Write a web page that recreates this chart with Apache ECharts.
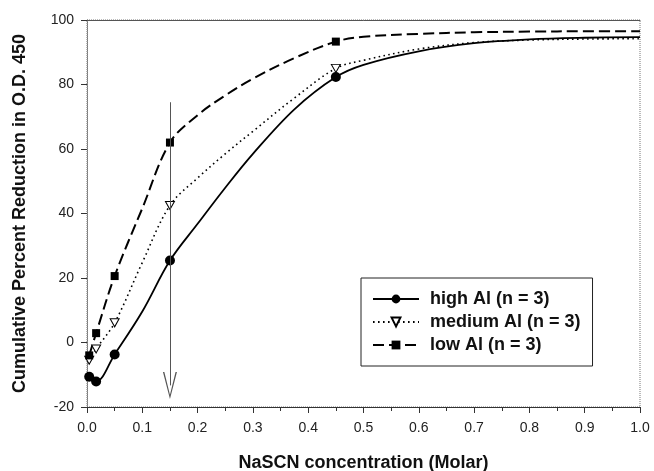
<!DOCTYPE html>
<html lang="en" style="height: 100%">
<head>
  <meta charset="utf-8">
  <script type="text/javascript" src="https://cdn.jsdelivr.net/npm/echarts@6/dist/echarts.min.js"></script>
</head>
<body style="height: 100%; margin: 0">
  <div id="main" style="height: 471px; width: 654px"></div>

  <script type="text/javascript">
    // measured points (molar NaSCN) and cumulative % reduction
    var conc = [0.004, 0.0165, 0.05, 0.15, 0.45];
    var highAl = [-10.6, -12.1, -3.7, 25.4, 82.3];
    var mediumAl = [-5.5, -2, 6.1, 42.5, 85.0];
    var lowAl = [-4, 2.9, 20.6, 62.0, 93.3];

    var curveConc = [0.1, 0.2, 0.25, 0.3, 0.375, 0.5, 0.6, 0.7, 0.8, 0.9, 1.0];
    var highCurve = [9.6, 36.8, 48.0, 58.5, 72.3, 86.1, 90.3, 92.8, 94.0, 94.5, 94.7];
    var mediumCurve = [24.8, 51.0, 58.5, 65.5, 75.8, 87.5, 91.0, 93.0, 93.8, 94.1, 94.2];
    var lowCurve = [41.6, 70.5, 76.6, 81.8, 88.2, 94.8, 95.7, 96.2, 96.4, 96.5, 96.5];

    var names = ['high Al (n = 3)', 'medium Al (n = 3)', 'low Al (n = 3)'];

    // arrow marking 0.15 M
    var arrowX = 0.15;
    var arrowFrom = 74.5;
    var arrowTo = -13.3;

    var font = 'Liberation Sans, Arial, Helvetica, sans-serif';

    function pts(xs, ys, cxs, cys) {
      var out = [];
      for (var i = 0; i < xs.length; i++) out.push({value: [xs[i], ys[i]]});
      for (var j = 0; j < cxs.length; j++) {
        out.push({value: [cxs[j], cys[j]], symbol: 'none'});
      }
      out.sort(function (a, b) { return a.value[0] - b.value[0]; });
      return out;
    }

    var chart = echarts.init(document.getElementById('main'));

    var option = {
      animation: false,
      backgroundColor: '#fff',
      textStyle: {fontFamily: font},
      grid: {
        left: 87, right: 14, top: 20, bottom: 64,
        outerBoundsMode: 'none',
        containLabel: false,
        show: true, borderColor: '#777', borderWidth: 1,
        borderType: [1, 1]
      },
      legend: {
        data: names,
        orient: 'vertical',
        left: 361, top: 278,
        padding: [12, 12, 12, 11],
        itemWidth: 46, itemHeight: 11, itemGap: 5,
        borderColor: '#222', borderWidth: 1,
        backgroundColor: '#fff',
        textStyle: {fontFamily: font, fontSize: 18, fontWeight: 'bold', color: '#111', padding: [0, 0, 0, 6]}
      },
      xAxis: [{
        type: 'value',
        min: 0, max: 1, interval: 0.1,
        name: 'NaSCN concentration (Molar)',
        nameLocation: 'middle', nameGap: 47,
        nameTextStyle: {fontFamily: font, fontSize: 18, fontWeight: 'bold', color: '#111'},
        axisLine: {onZero: false, lineStyle: {color: '#333', width: 1}},
        axisTick: {inside: false, length: 6, lineStyle: {color: '#333'}},
        minorTick: {show: true, splitNumber: 2, length: 4, lineStyle: {color: '#333'}},
        splitLine: {show: false},
        minorSplitLine: {show: false},
        axisLabel: {
          fontFamily: font, fontSize: 14, color: '#222', margin: 14,
          formatter: function (v) { return v.toFixed(1); }
        }
      }, {
        type: 'value', position: 'top',
        min: 0, max: 1,
        axisLine: {show: true, onZero: false, lineStyle: {color: '#555', width: 1}},
        axisTick: {show: false}, minorTick: {show: false},
        axisLabel: {show: false}, splitLine: {show: false}
      }],
      yAxis: {
        type: 'value',
        min: -20, max: 100, interval: 20,
        name: 'Cumulative Percent Reduction in O.D. 450',
        nameLocation: 'middle', nameGap: 58,
        nameTextStyle: {fontFamily: font, fontSize: 18, fontWeight: 'bold', color: '#111'},
        axisLine: {show: true, onZero: false, lineStyle: {color: '#777', width: 1, type: [1, 1]}},
        axisTick: {show: true, length: 6, lineStyle: {color: '#333'}},
        splitLine: {show: false},
        axisLabel: {fontFamily: font, fontSize: 14, color: '#222', margin: 13}
      },
      series: [{
        name: names[0],
        type: 'line',
        smooth: 0.35,
        data: pts(conc, highAl, curveConc, highCurve),
        symbol: 'circle', symbolSize: 10,
        itemStyle: {color: '#000'},
        lineStyle: {color: '#000', width: 1.8},
        markLine: {
          silent: true,
          symbol: ['none', 'path://M5,0 L10,20 L9,20 L5,3 L1,20 L0,20 Z'],
          symbolSize: [14, 27],
          label: {show: false},
          lineStyle: {color: '#555', width: 1, type: 'solid'},
          data: [[{coord: [arrowX, arrowFrom]}, {coord: [arrowX, arrowTo]}]]
        },
        z: 3
      }, {
        name: names[1],
        type: 'line',
        smooth: 0.35,
        data: pts(conc, mediumAl, curveConc, mediumCurve),
        symbol: 'triangle', symbolSize: [9, 8], symbolRotate: 180,
        itemStyle: {color: '#fff', borderColor: '#000', borderWidth: 1},
        lineStyle: {color: '#000', width: 1.6, type: [1.6, 3.4]},
        z: 2
      }, {
        name: names[2],
        type: 'line',
        smooth: 0.35,
        data: pts(conc, lowAl, curveConc, lowCurve),
        symbol: 'rect', symbolSize: 8,
        itemStyle: {color: '#000'},
        lineStyle: {color: '#000', width: 2, type: [11, 5]},
        z: 2
      }]
    };

    chart.setOption(option);
  </script>
</body>
</html>
